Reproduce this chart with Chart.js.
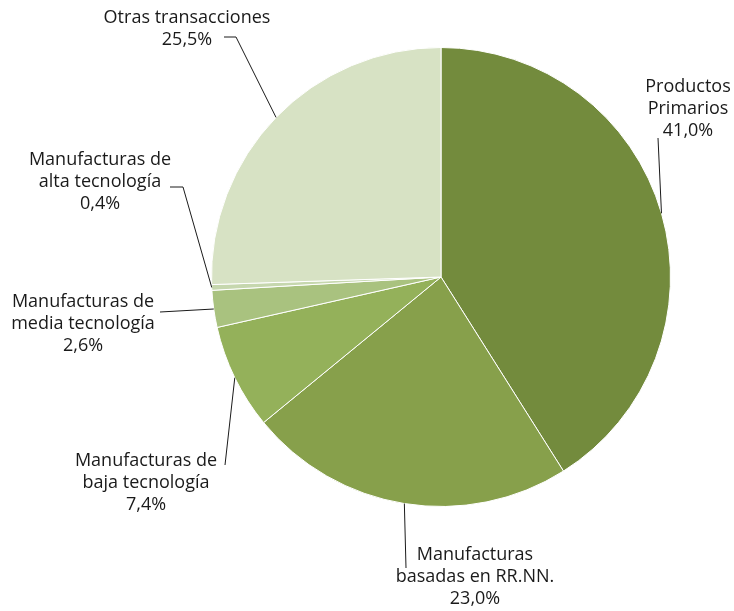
<!DOCTYPE html>
<html>
<head>
<meta charset="utf-8">
<script src="https://cdn.jsdelivr.net/npm/chart.js@4.4.0/dist/chart.umd.min.js"></script>
<style>
  html, body { margin: 0; padding: 0; background: #fff; }
  #wrap { width: 734px; height: 611px; }
</style>
</head>
<body>
<div id="wrap"><canvas id="pieChart" width="734" height="611"></canvas></div>
<script>
const categories = [
  "Productos Primarios",
  "Manufacturas basadas en RR.NN.",
  "Manufacturas de baja tecnología",
  "Manufacturas de media tecnología",
  "Manufacturas de alta tecnología",
  "Otras transacciones"
];
const shares = [41.0, 23.0, 7.4, 2.6, 0.4, 25.5];
const colors = ["#738b3d", "#87a04b", "#94b15a", "#a9c27f", "#c6d7ae", "#d7e2c4"];

// label text lines and where they sit (leader end, optional tail, text block)
const labelLines = [
  ["Productos", "Primarios"],
  ["Manufacturas", "basadas en RR.NN."],
  ["Manufacturas de", "baja tecnología"],
  ["Manufacturas de", "media tecnología"],
  ["Manufacturas de", "alta tecnología"],
  ["Otras transacciones"]
];
const labelLayout = [
  { end: [658, 138], tail: null, x: 688, y: 87 },
  { end: [406, 568], tail: null, x: 475, y: 555 },
  { end: [225, 465], tail: null, x: 146, y: 461 },
  { end: [160, 312], tail: null, x: 83, y: 302 },
  { end: [183, 187], tail: [170, 187], x: 100, y: 160 },
  { end: [236, 37], tail: [224, 37], x: 187, y: 18 }
];

function pct(v) {
  return v.toFixed(1).replace(".", ",") + "%";
}

const leaderLabels = {
  id: "leaderLabels",
  afterDraw(chart) {
    const ctx = chart.ctx;
    const meta = chart.getDatasetMeta(0);
    ctx.save();
    ctx.strokeStyle = "#1a1a1a";
    ctx.lineWidth = 1;
    ctx.fillStyle = "#1a1a1a";
    ctx.font = "18px 'Open Sans', sans-serif";
    ctx.textAlign = "center";
    ctx.textBaseline = "middle";
    meta.data.forEach((arc, i) => {
      const p = arc.getProps(["x", "y", "startAngle", "endAngle", "outerRadius"], true);
      const mid = (p.startAngle + p.endAngle) / 2;
      const sx = p.x + Math.cos(mid) * p.outerRadius;
      const sy = p.y + Math.sin(mid) * p.outerRadius;
      const lay = labelLayout[i];
      ctx.beginPath();
      ctx.moveTo(sx, sy);
      ctx.lineTo(lay.end[0], lay.end[1]);
      if (lay.tail) ctx.lineTo(lay.tail[0], lay.tail[1]);
      ctx.stroke();
      const lines = labelLines[i].concat([pct(shares[i])]);
      lines.forEach((t, k) => {
        ctx.fillText(t, lay.x, lay.y + k * 21.8);
      });
    });
    ctx.restore();
  }
};

new Chart(document.getElementById("pieChart").getContext("2d"), {
  type: "pie",
  data: {
    labels: categories,
    datasets: [
      {
        data: shares,
        backgroundColor: colors,
        borderColor: "#ffffff",
        borderWidth: 1
      }
    ]
  },
  options: {
    responsive: false,
    animation: false,
    layout: { padding: { left: 211, right: 63, top: 46, bottom: 103 } },
    plugins: {
      legend: { display: false },
      tooltip: { enabled: false }
    }
  },
  plugins: [leaderLabels]
});
</script>
</body>
</html>
